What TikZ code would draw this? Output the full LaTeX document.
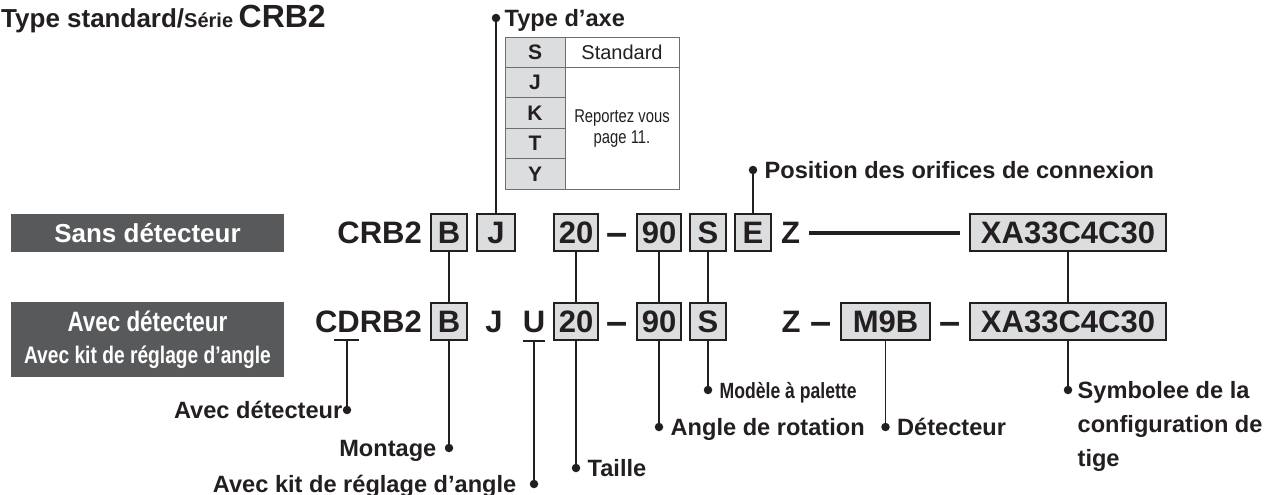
\documentclass[tikz,border=0pt]{standalone}
\usepackage{fontspec}
\setmainfont{Liberation Sans}
\newfontfamily\nrwfont[FakeStretch=0.8]{Liberation Sans}
\usetikzlibrary{positioning}
\definecolor{crbink}{HTML}{231F20}
\definecolor{crbfill}{HTML}{DCDDDE}
\definecolor{crbpanel}{HTML}{58595B}
\definecolor{crbrule}{HTML}{6D6E71}
\tikzset{
  pn/.style={font=\bfseries\fontsize{31}{31}\selectfont, text=crbink, inner sep=0pt, text height=22.2pt, text depth=0pt},
  pbx/.style={pn, draw=crbink, line width=1.4pt, fill=crbfill, minimum height=37pt},
  pdash/.style={pn, font=\bfseries\fontsize{38}{38}\selectfont, yshift=-2pt},
  pbar/.style={draw=crbink, line width=4pt},
  pdot/.style={circle, fill=crbink, inner sep=0pt, minimum size=8.5pt},
  lbl/.style={font=\bfseries\fontsize{23.6}{34}\selectfont, text=crbink, inner sep=0pt, text height=16.8pt, text depth=0pt},
  lnk/.style={draw=crbink, line width=1.5pt},
  tagbox/.style={fill=crbpanel, text=white, inner sep=0pt, minimum width=273pt, align=center},
  tcell/.style={draw=crbrule, line width=0.9pt, inner sep=0pt, text=crbink},
}
\begin{document}
\begin{tikzpicture}[x=1pt, y=1pt]
  \useasboundingbox (0,0) rectangle (1270,-495);
  % title
  \node[anchor=base west, inner sep=0pt, text=crbink, font=\bfseries] (ttl) at (1,-28)
    {\fontsize{26}{26}\selectfont Type standard/\fontsize{20}{20}\selectfont Série \fontsize{32}{32}\selectfont CRB2};

  % grey tags
  \node[tagbox, minimum height=38pt, font=\bfseries\fontsize{26}{26}\selectfont] (sans) at (147.5,-233) {Sans détecteur};
  \node[tagbox, minimum height=75pt, font=\nrwfont\bfseries] (avec) at (147.5,-339.5)
    {\fontsize{28}{28}\selectfont Avec détecteur\\[13pt]\fontsize{24}{24}\selectfont Avec kit de réglage d’angle};

  % shaft table
  \foreach \k/\r in {S/0,J/1,K/2,T/3,Y/4}
    \node[tcell, fill=crbfill, minimum width=60pt, minimum height=30.4pt, font=\bfseries\fontsize{21}{21}\selectfont] (k\k) at (535,{-52.2-30.4*\r}) {\k};
  \node[tcell, minimum width=114pt, minimum height=30.4pt, font=\fontsize{20}{20}\selectfont] (std) at (622,-52.2) {Standard};
  \node[tcell, minimum width=114pt, minimum height=121.6pt, align=center, font=\nrwfont\fontsize{18.5}{21}\selectfont] (rep) at (622,-128.2) {Reportez vous\\page 11.};

  % part number, without switch
  \node[pn, anchor=east] (crbA) at (422,-232.5) {CRB2};
  \foreach \nm/\x/\w/\t in {bA/449/36/B, jA/496/38/J, tA/576/44/20, nA/659/44/90, sA/708/36/S, eA/753/36/E, xA/1068/196/XA33C4C30}
    \node[pbx, minimum width=\w pt] (\nm) at (\x,-232.5) {\t};
  \node[pdash] (hA) at (617,-232.5) {–};
  \node[pn] (zA) at (790.5,-232.5) {Z};
  \draw[pbar] ([xshift=9pt]zA.east) -- ([xshift=-9pt]xA.west);

  % part number, with switch
  \node[pn, anchor=east] (crbB) at (422,-321.5) {CDRB2};
  \foreach \nm/\x/\w/\t in {bB/449/36/B, tB/576/44/20, nB/659/44/90, sB/708/36/S, mB/885.5/89/M9B, xB/1068/196/XA33C4C30}
    \node[pbx, minimum width=\w pt] (\nm) at (\x,-321.5) {\t};
  \node[pn] (jB) at (494,-321.5) {J};
  \node[pn] (uB) at (534,-321.5) {U};
  \node[pdash] (hB) at (617,-321.5) {–};
  \node[pn] (zB) at (791,-321.5) {Z};
  \node[pdash] (hC) at (821.5,-321.5) {–};
  \node[pdash] (hD) at (950,-321.5) {–};
  \coordinate (dl) at (334,-340);
  \coordinate (dr) at (359,-340);

  % dots and labels
  \node[pdot] (dAx) at (496,-18) {};
  \node[lbl, right=4pt of dAx] (lAx) {Type d’axe};
  \node[pdot] (dPo) at (753,-170) {};
  \node[lbl, right=7pt of dPo] (lPo) {Position des orifices de connexion};
  \node[pdot] (dDt) at (347,-410) {};
  \node[lbl, left=0pt of dDt] (lDt) {Avec détecteur};
  \node[pdot] (dMo) at (449,-448) {};
  \node[lbl, left=8pt of dMo] (lMo) {Montage};
  \node[pdot] (dKt) at (534,-484) {};
  \node[lbl, left=13pt of dKt] (lKt) {Avec kit de réglage d’angle};
  \node[pdot] (dTa) at (576,-468) {};
  \node[lbl, right=7pt of dTa] (lTa) {Taille};
  \node[pdot] (dAn) at (659,-427) {};
  \node[lbl, right=7pt of dAn] (lAn) {Angle de rotation};
  \node[pdot] (dPa) at (708,-390) {};
  \node[lbl, right=7pt of dPa, font=\nrwfont\bfseries\fontsize{22}{22}\selectfont] (lPa) {Modèle à palette};
  \node[pdot] (dDe) at (885.5,-427) {};
  \node[lbl, right=7pt of dDe] (lDe) {Détecteur};
  \node[pdot] (dSy) at (1068,-390) {};
  \node[lbl, text height=, text depth=, align=left, right=5pt of dSy, anchor=north west, yshift=9pt] (lSy)
    {Symbolee de la\\configuration de\\tige};

  % leaders
  \draw[lnk] (dAx) -- (jA);
  \draw[lnk] (dPo) -- (eA);
  \foreach \u/\v in {bA/bB, tA/tB, nA/nB, sA/sB, xA/xB}
    \draw[lnk] (\u) -- (\v);
  \foreach \u/\v in {bB/dMo, tB/dTa, nB/dAn, sB/dPa, mB/dDe, xB/dSy}
    \draw[lnk] (\u) -- (\v);
  \draw[lnk] (dl) -- (dr);
  \draw[lnk] (dDt |- dl) -- (dDt);
  \draw[lnk] ([yshift=-8pt]uB.south west) -- ([yshift=-8pt]uB.south east);
  \draw[lnk] ([yshift=-8pt]uB.south) -- (dKt);
\end{tikzpicture}
\end{document}
